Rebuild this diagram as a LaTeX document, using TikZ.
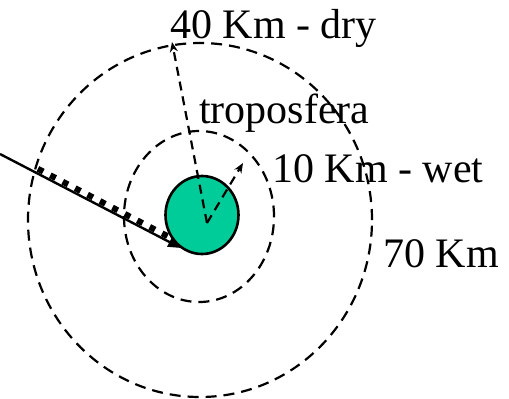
\documentclass[tikz,border=0pt]{standalone}
\usepackage{fontspec}
\setmainfont{Liberation Serif}
\usetikzlibrary{positioning,arrows.meta,shapes.geometric,calc}
\definecolor{earthgreen}{RGB}{0,204,153}

\begin{document}
\begin{tikzpicture}[x=1bp, y=-1bp,
 ring/.style={draw, ellipse, line width=2.2bp, dash pattern=on 11bp off 7bp, inner sep=0pt},
 rad/.style={-{Stealth[length=10bp,width=8bp]}, line width=2.2bp, dash pattern=on 9bp off 6bp},
 lbl/.style={font=\fontsize{42bp}{42bp}\selectfont, inner sep=0pt, anchor=base west}]
\useasboundingbox (0,0) rectangle (509,398);
% layers
\node[ring, minimum width=344bp, minimum height=354bp] (strato) at (200,220) {};
\node[ring, minimum width=150bp, minimum height=171bp] (tropo) at (199,216.5) {};
\node[draw, ellipse, fill=earthgreen, line width=2.6bp, minimum width=73bp, minimum height=78bp] (earth) at (202,215) {};
% heights
\coordinate (ctr) at (207,223);
\coordinate (drytop) at (172,42);
\coordinate (wettop) at (243,163);
\draw[rad] (ctr) -- (drytop);
\draw[rad] (ctr) -- (wettop);
% signal ray
\coordinate (src) at (0,154);
\coordinate (hit) at (181,248);
\draw[line width=2.4bp, -{Triangle[length=13bp,width=10bp]}] (src) -- (hit);
\draw[line width=6bp, dash pattern=on 6bp off 8bp]
 ($(src)!0.2!(hit)+(1.7,-4)$) -- ($(src)!0.93!(hit)+(1.7,-4)$);
% labels
\node[lbl] (dry) at (170,38) {40 Km - dry};
\node[lbl] (tlbl) at (199,123) {troposfera};
\node[lbl] (wet) at (272,182) {10 Km - wet};
\node[lbl] (top) at (383,267) {70 Km};
\end{tikzpicture}
\end{document}
